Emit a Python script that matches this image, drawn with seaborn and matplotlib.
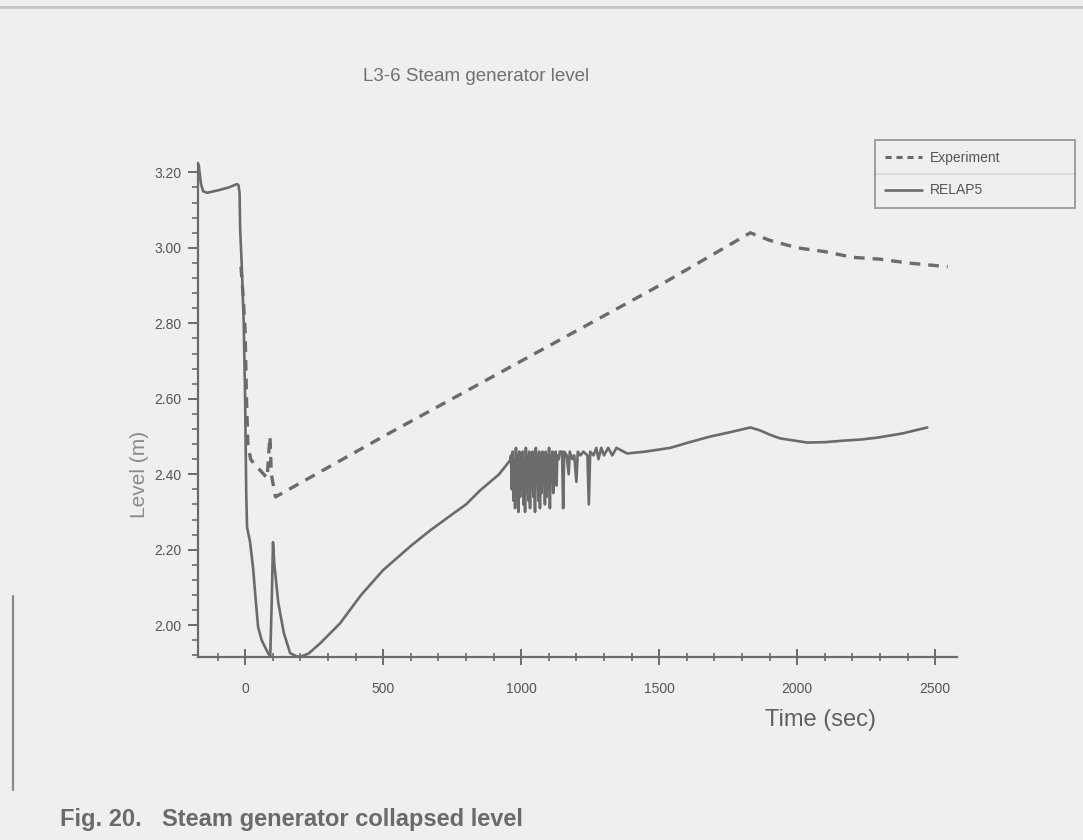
import numpy as np
import pandas as pd
import seaborn as sns
import matplotlib.pyplot as plt
from matplotlib.ticker import MultipleLocator, FormatStrFormatter
from matplotlib.lines import Line2D

# values (time in s, level in m)
exp_time = [-15, -8, 0, 5, 10, 20, 30, 55, 80, 86, 90, 95, 110,
            500, 1000, 1500, 1830, 1900, 2000, 2100, 2200, 2300, 2400, 2545]
exp_level = [2.95, 2.88, 2.78, 2.60, 2.48, 2.44, 2.43, 2.41, 2.39, 2.46, 2.50, 2.40, 2.34,
             2.50, 2.70, 2.90, 3.04, 3.02, 3.00, 2.99, 2.975, 2.97, 2.96, 2.95]

relap_time = [-170, -168, -165, -160, -152, -138, -100, -60, -29, -24, -20, -18, -12, -5, 0, 4, 7,
              18, 29, 38, 47, 60, 83, 91, 96, 101, 106, 120, 140, 163, 185, 199, 230, 272, 344,
              420, 500, 600, 670, 743, 800, 851, 920, 960,
              963, 966, 969, 972, 975, 978, 981, 984, 987, 990, 993, 996, 999, 1002,
              1005, 1008, 1011, 1014, 1017, 1020, 1023, 1026, 1029, 1032, 1035, 1038,
              1041, 1044, 1047, 1050, 1053, 1056, 1059, 1062, 1065, 1068, 1071, 1074,
              1077, 1080, 1083, 1086, 1089, 1092, 1095, 1098, 1101, 1104, 1107, 1110,
              1113, 1116, 1119, 1122, 1125, 1128, 1131, 1136, 1140,
              1148, 1152, 1156, 1165, 1172, 1176, 1185, 1192, 1200, 1205, 1215, 1225,
              1240, 1245, 1250, 1262, 1272, 1280, 1290, 1300, 1315, 1330, 1345,
              1384, 1450, 1540, 1610, 1685, 1760, 1830,
              1866, 1900, 1938, 2036, 2100, 2167, 2230, 2290, 2380, 2471]
relap_level = [3.19, 3.22, 3.20, 3.17, 3.15, 3.146, 3.152, 3.16, 3.169, 3.166, 3.145, 3.05, 2.95, 2.80, 2.60, 2.35, 2.26,
               2.22, 2.15, 2.07, 1.995, 1.96, 1.926, 1.918, 2.05, 2.22, 2.16, 2.06, 1.98, 1.926, 1.918, 1.916, 1.925, 1.952, 2.005,
               2.08, 2.146, 2.21, 2.251, 2.29, 2.32, 2.357, 2.40, 2.437,
               2.45, 2.36, 2.46, 2.33, 2.44, 2.31, 2.47, 2.35, 2.45, 2.30, 2.46, 2.34, 2.45, 2.38,
               2.46, 2.32, 2.44, 2.30, 2.47, 2.35, 2.45, 2.33, 2.46, 2.31, 2.45, 2.36,
               2.46, 2.34, 2.44, 2.30, 2.47, 2.37, 2.45, 2.33, 2.46, 2.31, 2.45, 2.35,
               2.46, 2.39, 2.44, 2.32, 2.46, 2.34, 2.45, 2.36, 2.47, 2.31, 2.45, 2.38,
               2.46, 2.35, 2.45, 2.40, 2.46, 2.37, 2.45, 2.44, 2.46,
               2.46, 2.31, 2.46, 2.45, 2.40, 2.46, 2.44, 2.45, 2.38, 2.46, 2.45, 2.46,
               2.45, 2.32, 2.46, 2.45, 2.47, 2.44, 2.47, 2.45, 2.47, 2.45, 2.47,
               2.455, 2.46, 2.47, 2.485, 2.50, 2.512, 2.524,
               2.516, 2.505, 2.495, 2.484, 2.485, 2.489, 2.492, 2.497, 2.508, 2.524]

ink = '#6b6b6b'
paper = '#efefed'

sns.set_theme(style='ticks')
plt.rcParams['font.family'] = ['Liberation Sans', 'DejaVu Sans']
plt.rcParams['font.stretch'] = 'condensed'

fig = plt.figure(figsize=(10.83, 8.4), dpi=100, facecolor=paper)
ax = fig.add_axes([0.183, 0.218, 0.701, 0.588], facecolor=paper)

sns.lineplot(x=exp_time, y=exp_level, ax=ax, color=ink, linewidth=2.4,
             linestyle=(0, (3.2, 2.4)), estimator=None, sort=False)
sns.lineplot(x=relap_time, y=relap_level, ax=ax, color=ink, linewidth=1.9,
             estimator=None, sort=False)

ax.set_xlim(-170, 2580)
ax.set_ylim(1.916, 3.225)
ax.xaxis.set_major_locator(MultipleLocator(500))
ax.xaxis.set_minor_locator(MultipleLocator(100))
ax.yaxis.set_major_locator(MultipleLocator(0.2))
ax.yaxis.set_minor_locator(MultipleLocator(0.04))
ax.yaxis.set_major_formatter(FormatStrFormatter('%.2f'))

sns.despine(ax=ax)
for s in ['left', 'bottom']:
    ax.spines[s].set_color(ink)
    ax.spines[s].set_linewidth(1.6)
ax.tick_params(axis='x', which='major', direction='inout', length=12, width=1.4,
               color=ink, labelcolor='#555555', labelsize=10, pad=12)
ax.tick_params(axis='x', which='minor', direction='inout', length=6, width=1.2, color=ink)
ax.tick_params(axis='y', which='major', direction='out', length=7, width=1.4,
               color=ink, labelcolor='#555555', labelsize=10, pad=5)
ax.tick_params(axis='y', which='minor', direction='out', length=4, width=1.2, color=ink)

ax.set_xlabel('Time (sec)', fontsize=17, color='#606060')
ax.xaxis.set_label_coords(0.82, -0.105)
ax.set_ylabel('Level (m)', fontsize=15, color='#8a8a8a')
ax.yaxis.set_label_coords(-0.065, 0.37)

fig.text(0.44, 0.903, 'L3-6 Steam generator level', fontsize=13.5, color='#707070', ha='center')

handles = [Line2D([], [], color=ink, linewidth=2.2, linestyle=(0, (2.0, 1.6))),
           Line2D([], [], color=ink, linewidth=1.9)]
leg = fig.legend(handles, ['Experiment', 'RELAP5'], loc='upper left',
                 bbox_to_anchor=(0.808, 0.752, 0.185, 0.081), mode='expand',
                 fontsize=10, frameon=True, fancybox=False, handlelength=2.6,
                 borderpad=0.75, labelspacing=1.35, handletextpad=0.6, borderaxespad=0)
leg.get_frame().set_edgecolor('#8a8a8a')
leg.get_frame().set_facecolor(paper)
leg.get_frame().set_linewidth(1.4)
for t in leg.get_texts():
    t.set_color('#555555')
fig.lines.append(Line2D([0.808, 0.993], [0.793, 0.793], transform=fig.transFigure,
                        color='#8a8a8a', linewidth=1.4))

# scan edges
fig.lines.append(Line2D([0.0, 1.0], [0.992, 0.992], transform=fig.transFigure,
                        color='#c4c4c4', linewidth=2.0))
fig.lines.append(Line2D([0.012, 0.012], [0.06, 0.29], transform=fig.transFigure,
                        color='#8a8a8a', linewidth=1.6))

cap = dict(fontsize=17, fontweight='bold', color='#6a6a6a',
           family=['Liberation Sans', 'DejaVu Sans'])
fig.text(0.055, 0.017, 'Fig. 20.', **cap)
fig.text(0.150, 0.017, 'Steam generator collapsed level', **cap)

fig.savefig('out.png', dpi=100, facecolor=paper)
